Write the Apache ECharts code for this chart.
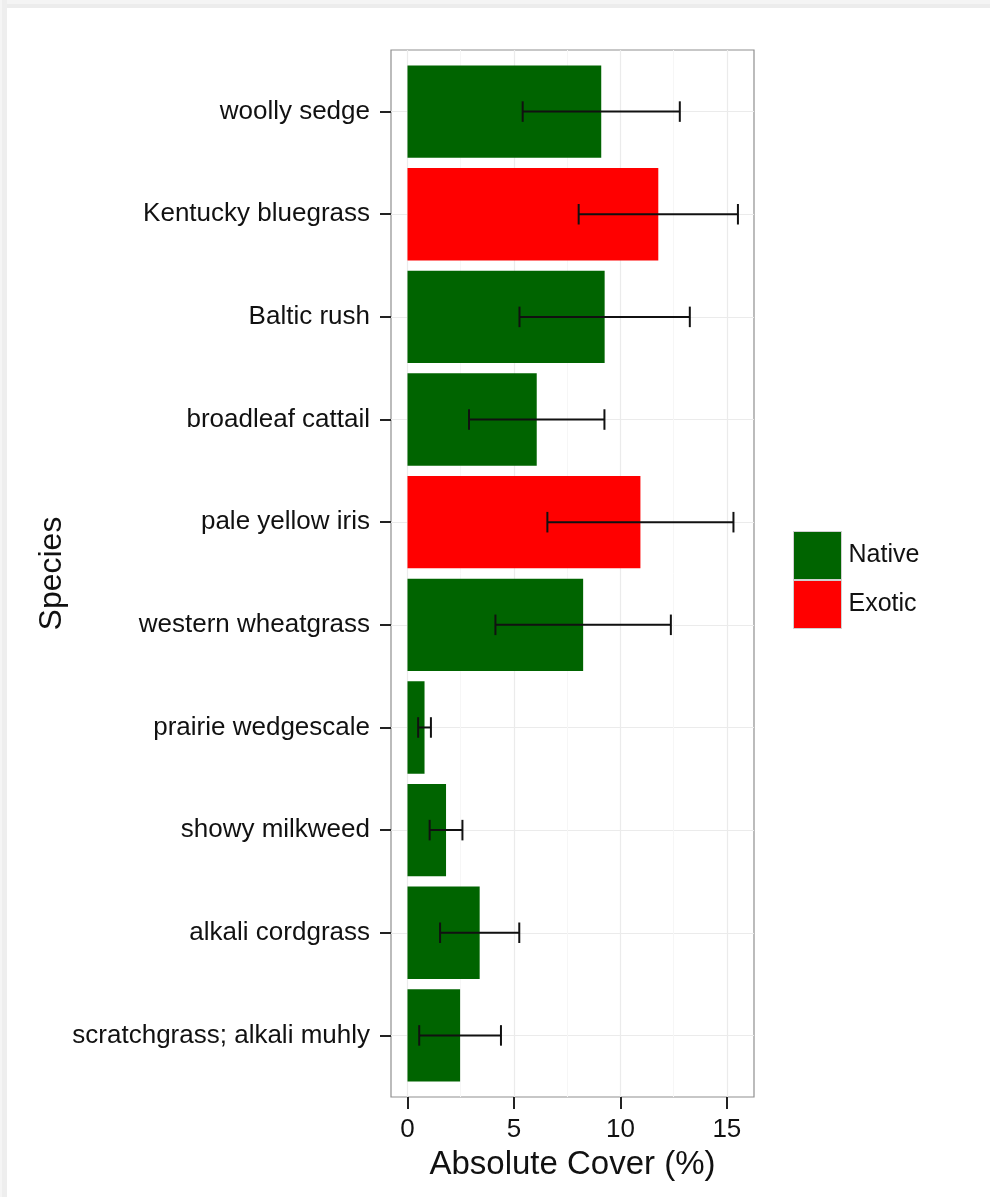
<!DOCTYPE html>
<html>
<head>
<meta charset="utf-8">
<title>Absolute Cover by Species</title>
<script src="https://cdn.jsdelivr.net/npm/echarts@6/dist/echarts.min.js"></script>
<style>
  html, body { margin: 0; padding: 0; background: #ffffff; }
  #page { position: relative; width: 990px; height: 1197px; overflow: hidden; background: #ffffff; }
  #bandTop { position: absolute; left: 0; top: 0; width: 990px; height: 8px; background: linear-gradient(#f4f4f4 0 4px, #ececec 4px 8px); }
  #bandLeft { position: absolute; left: 0; top: 0; width: 7px; height: 1197px; background: linear-gradient(90deg, #f5f5f5 0 2px, #eeeeee 2px 7px); }
  #chart { position: absolute; left: 0; top: 0; width: 990px; height: 1197px; }
</style>
</head>
<body>
<div id="page">
  <div id="bandTop"></div>
  <div id="bandLeft"></div>
  <div id="chart"></div>
</div>
<script>
// Species, listed from the top row of the chart to the bottom row
const species = [
  'woolly sedge',
  'Kentucky bluegrass',
  'Baltic rush',
  'broadleaf cattail',
  'pale yellow iris',
  'western wheatgrass',
  'prairie wedgescale',
  'showy milkweed',
  'alkali cordgrass',
  'scratchgrass; alkali muhly'
];
// Origin of each species
const origin = ['Native', 'Exotic', 'Native', 'Native', 'Exotic', 'Native', 'Native', 'Native', 'Native', 'Native'];
// Mean absolute cover (%)
const meanCover = [9.10, 11.78, 9.26, 6.07, 10.94, 8.25, 0.80, 1.81, 3.39, 2.47];
// Standard error of the mean (%)
const stdErr = [3.69, 3.74, 4.00, 3.18, 4.37, 4.12, 0.30, 0.77, 1.86, 1.92];
// Tick values on the cover axis
const coverTicks = [0, 5, 10, 15];
const coverMinorTicks = [2.5, 7.5, 12.5];
const groups = ['Native', 'Exotic'];
const groupColors = { Native: '#006400', Exotic: '#ff0000' };

// Row positions: 1 for the first species (top), 10 for the last
const rowPos = species.map((_, i) => i + 1);

const BAR_HALF = 0.45;   // bars are 0.9 of a row tall
const CAP_HALF = 0.1;    // error bar caps are 0.2 of a row tall

function renderBar(params, api) {
  const v = api.value(0);
  const y = api.value(1);
  const a = api.coord([0, y - BAR_HALF]);
  const b = api.coord([v, y + BAR_HALF]);
  return {
    type: 'rect',
    shape: {
      x: Math.min(a[0], b[0]),
      y: Math.min(a[1], b[1]),
      width: Math.abs(b[0] - a[0]),
      height: Math.abs(b[1] - a[1])
    },
    style: api.style()
  };
}

function renderErrorBar(params, api) {
  const lo = api.value(0);
  const hi = api.value(1);
  const y = api.value(2);
  const pl = api.coord([lo, y]);
  const ph = api.coord([hi, y]);
  const capA = api.coord([lo, y - CAP_HALF]);
  const capB = api.coord([lo, y + CAP_HALF]);
  const capC = api.coord([hi, y - CAP_HALF]);
  const capD = api.coord([hi, y + CAP_HALF]);
  const style = { stroke: '#111111', lineWidth: 2, fill: null };
  return {
    type: 'group',
    children: [
      { type: 'line', shape: { x1: pl[0], y1: pl[1], x2: ph[0], y2: ph[1] }, style: style },
      { type: 'line', shape: { x1: capA[0], y1: capA[1], x2: capB[0], y2: capB[1] }, style: style },
      { type: 'line', shape: { x1: capC[0], y1: capC[1], x2: capD[0], y2: capD[1] }, style: style }
    ]
  };
}

const barSeries = groups.map(g => ({
  name: g,
  type: 'custom',
  xAxisIndex: 0,
  yAxisIndex: 0,
  renderItem: renderBar,
  itemStyle: { color: groupColors[g] },
  encode: { x: 0, y: 1 },
  data: species
    .map((_, i) => (origin[i] === g ? [meanCover[i], rowPos[i]] : null))
    .filter(d => d !== null),
  z: 2
}));

const errorSeries = {
  name: 'SE',
  type: 'custom',
  xAxisIndex: 0,
  yAxisIndex: 0,
  renderItem: renderErrorBar,
  encode: { x: [0, 1], y: 2 },
  data: species.map((_, i) => [meanCover[i] - stdErr[i], meanCover[i] + stdErr[i], rowPos[i]]),
  z: 3
};

const textColor = '#111111';
const fontFamily = 'Liberation Sans, Arial, sans-serif';

const chart = echarts.init(document.getElementById('chart'), null, { renderer: 'canvas' });
chart.setOption({
  animation: false,
  textStyle: { fontFamily: fontFamily },
  grid: {
    left: 391,
    right: 236,
    top: 50,
    bottom: 100,
    show: true,
    borderColor: '#8f8f8f',
    borderWidth: 1.2,
    backgroundColor: 'transparent'
  },
  legend: {
    orient: 'vertical',
    left: 793,
    top: 531,
    itemWidth: 48,
    itemHeight: 48,
    itemGap: 0,
    padding: 0,
    icon: 'rect',
    data: groups,
    itemStyle: { borderColor: '#d0d0d0', borderWidth: 1 },
    textStyle: { fontSize: 25, color: textColor, fontFamily: fontFamily, padding: [0, 0, 0, 2] }
  },
  xAxis: [
    {
      type: 'value',
      min: -0.775,
      max: 16.275,
      name: 'Absolute Cover (%)',
      nameLocation: 'middle',
      nameGap: 51,
      nameTextStyle: { fontSize: 33, color: textColor, fontFamily: fontFamily },
      axisLine: { show: false, onZero: false },
      axisTick: { show: true, length: 12, customValues: coverTicks, lineStyle: { color: '#222222', width: 2 } },
      axisLabel: { show: true, customValues: coverTicks, fontSize: 26, color: textColor, margin: 20 },
      splitLine: { show: true, lineStyle: { color: '#ebebeb', width: 1.2 } }
    },
    {
      type: 'value',
      min: -0.775,
      max: 16.275,
      position: 'bottom',
      axisLine: { show: false, onZero: false },
      axisTick: { show: false, customValues: coverMinorTicks },
      axisLabel: { show: false, customValues: coverMinorTicks },
      splitLine: { show: true, lineStyle: { color: '#f6f6f6', width: 1 } }
    }
  ],
  yAxis: {
    type: 'value',
    inverse: true,
    min: 0.4,
    max: 10.6,
    name: 'Species',
    nameLocation: 'middle',
    nameRotate: 90,
    nameGap: 322,
    nameTextStyle: { fontSize: 32, color: textColor, fontFamily: fontFamily },
    axisLine: { show: false, onZero: false },
    axisTick: { show: true, length: 11, customValues: rowPos, lineStyle: { color: '#222222', width: 2 } },
    axisLabel: {
      show: true,
      customValues: rowPos,
      fontSize: 26,
      color: textColor,
      margin: 21,
      formatter: v => species[Math.round(v) - 1] || ''
    },
    splitLine: { show: true, lineStyle: { color: '#ebebeb', width: 1.2 } }
  },
  series: [...barSeries, errorSeries]
});
</script>
</body>
</html>
